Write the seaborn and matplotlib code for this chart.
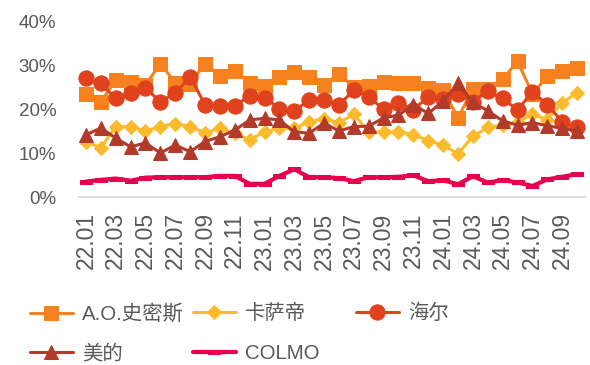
import matplotlib
matplotlib.use("Agg")
import matplotlib.pyplot as plt
import seaborn as sns
import pandas as pd
from matplotlib.ticker import FuncFormatter

months = ["22.01", "22.02", "22.03", "22.04", "22.05", "22.06", "22.07", "22.08",
          "22.09", "22.10", "22.11", "22.12", "23.01", "23.02", "23.03", "23.04",
          "23.05", "23.06", "23.07", "23.08", "23.09", "23.10", "23.11", "23.12",
          "24.01", "24.02", "24.03", "24.04", "24.05", "24.06", "24.07", "24.08",
          "24.09", "24.10"]

ao_smith = [23.4, 21.6, 26.6, 26.1, 25.5, 30.3, 26.0, 25.7, 30.3, 27.6, 28.6, 26.0,
            25.2, 27.2, 28.3, 27.2, 25.5, 28.0, 25.0, 25.3, 26.2, 26.0, 25.8, 24.7,
            24.3, 18.0, 24.5, 24.5, 26.8, 30.8, 23.5, 27.4, 28.6, 29.4]
casarte = [12.6, 11.2, 16.0, 16.0, 15.0, 16.0, 16.7, 16.0, 14.6, 15.6, 14.5, 13.0,
           14.8, 15.6, 15.6, 17.1, 17.8, 16.9, 18.8, 14.8, 14.8, 14.8, 14.2, 12.8,
           11.8, 9.8, 13.8, 15.8, 16.3, 17.0, 18.8, 17.6, 21.4, 23.7]
haier = [27.0, 25.8, 22.4, 23.6, 24.7, 21.7, 23.6, 27.3, 21.0, 20.7, 20.7, 23.0,
         22.6, 20.1, 19.6, 22.0, 22.1, 20.9, 24.3, 22.8, 19.9, 21.4, 19.8, 22.8,
         22.3, 23.3, 21.7, 24.0, 22.4, 19.8, 23.9, 21.0, 17.1, 15.8]
midea = [14.1, 15.7, 13.4, 11.4, 12.3, 10.0, 11.8, 10.3, 12.6, 13.7, 15.2, 17.5,
         17.9, 17.5, 14.8, 14.5, 16.8, 15.0, 16.0, 16.1, 18.0, 18.6, 21.0, 19.0,
         21.8, 25.8, 21.5, 19.6, 17.3, 16.3, 16.9, 16.2, 15.6, 15.0]
colmo = [3.5, 3.9, 4.2, 3.7, 4.4, 4.5, 4.5, 4.5, 4.5, 4.8, 4.8, 3.0,
         3.0, 4.8, 6.3, 4.5, 4.5, 4.3, 3.6, 4.5, 4.5, 4.6, 4.9, 3.6,
         3.8, 2.9, 4.7, 3.3, 3.8, 3.3, 2.5, 4.0, 4.6, 5.2]

brands = ["A.O.史密斯", "卡萨帝", "海尔", "美的", "COLMO"]
values = [ao_smith, casarte, haier, midea, colmo]

rect_marker = [(-1, -0.42), (1, -0.42), (1, 0.42), (-1, 0.42), (-1, -0.42)]
styles = {
    "A.O.史密斯": dict(color="#F5821F", marker="s", ms=10.5, lw=2.2),
    "卡萨帝": dict(color="#FCBB2D", marker="D", ms=7.6, lw=2.2),
    "海尔": dict(color="#DF421C", marker="o", ms=11.0, lw=2.2),
    "美的": dict(color="#B23A2A", marker="^", ms=10.5, lw=2.2),
    "COLMO": dict(color="#E8004D", marker=rect_marker, ms=8.5, lw=3.0),
}

sns.set_theme(style="white")
plt.rcParams["font.family"] = ["Liberation Sans", "Noto Sans CJK SC"]

fig = plt.figure(figsize=(5.9, 3.65), dpi=100)
ax = fig.add_axes([78.5 / 590, 1 - 197 / 365, 506 / 590, 176 / 365])

handles = {}
for name, vals in zip(brands, values):
    st = styles[name]
    df = pd.DataFrame({"month": months, "share": vals})
    n_before = len(ax.lines)
    sns.lineplot(data=df, x="month", y="share", ax=ax, color=st["color"],
                 marker=st["marker"], markersize=st["ms"],
                 markeredgecolor=st["color"], markerfacecolor=st["color"],
                 linewidth=st["lw"], clip_on=False, sort=False, legend=False)
    handles[name] = ax.lines[n_before]

ax.set_xlim(-0.5, len(months) - 0.5)
ax.set_ylim(0, 40)
ax.set_yticks([0, 10, 20, 30, 40])
ax.yaxis.set_major_formatter(FuncFormatter(lambda v, p: f"{v:.0f}%"))
ax.set_xticks(range(0, len(months), 2))
ax.set_xticklabels(months[::2], rotation=90)
ax.set_xlabel("")
ax.set_ylabel("")

for s in ["top", "left", "right"]:
    ax.spines[s].set_visible(False)
ax.spines["bottom"].set_color("#D9D9D9")
ax.spines["bottom"].set_linewidth(1.3)
ax.tick_params(axis="both", length=0, colors="#595959")
ax.tick_params(axis="y", pad=16, labelsize=13.5)
ax.tick_params(axis="x", pad=11, labelsize=16.5)
ax.grid(False)

cols = [(["A.O.史密斯", "美的"], 30), (["卡萨帝", "COLMO"], 193), (["海尔"], 356)]
for names, xpx in cols:
    fig.legend([handles[n] for n in names], names, loc="upper left",
               bbox_to_anchor=(xpx / 590, 1 - 304 / 365), frameon=False,
               fontsize=14.7, handlelength=2.1, handletextpad=0.45,
               labelspacing=1.0, borderpad=0, borderaxespad=0,
               labelcolor="#595959", numpoints=1)

fig.savefig("out.png", dpi=100)
